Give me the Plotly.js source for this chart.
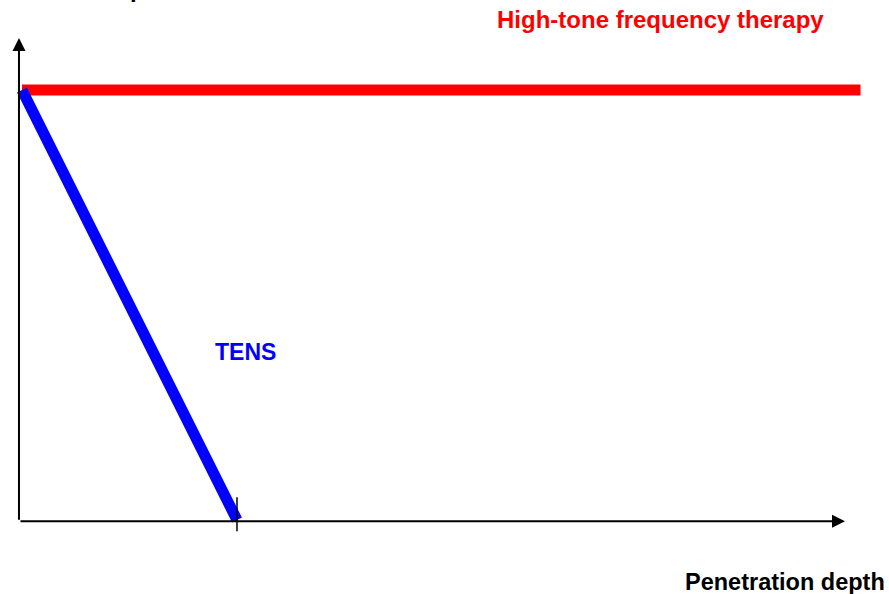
<!DOCTYPE html>
<html>
<head>
<meta charset="utf-8">
<script src="https://cdn.plot.ly/plotly-3.0.1.min.js"></script>
<style>html,body{margin:0;padding:0;background:#fff;}#chart{width:889px;height:594px;}</style>
</head>
<body>
<div id="chart"></div>
<script>
// Data (conceptual units: depth and relative effect)
const tensDepth = [0, 1];
const tensEffect = [1, 0];
const hftDepth = [0, 3.9];
const hftEffect = [1, 1];
const tensLabel = "TENS";
const hftLabel = "High-tone frequency therapy";
const xTitle = "Penetration depth";
const yTitle = "Number of action potentials";

const FONT = "Liberation Sans, Arial, sans-serif";

const traces = [
  {x: hftDepth, y: hftEffect, mode: "lines", line: {color: "#ff0000", width: 11}, hoverinfo: "skip"},
  {x: tensDepth, y: tensEffect, mode: "lines", line: {color: "#0000ff", width: 11}, hoverinfo: "skip"}
];

const axX0 = -0.014, axY0 = -0.003;
const layout = {
  width: 889, height: 594,
  margin: {l: 0, r: 0, t: 0, b: 0},
  paper_bgcolor: "#fff", plot_bgcolor: "#fff",
  showlegend: false,
  xaxis: {range: [-0.1023, 4.0326], showgrid: false, zeroline: false, showticklabels: false, ticks: "", fixedrange: true},
  yaxis: {range: [-0.1721, 1.2093], showgrid: false, zeroline: false, showticklabels: false, ticks: "", fixedrange: true},
  shapes: [
    {type: "line", xref: "x", yref: "y", x0: tensDepth[1], x1: tensDepth[1], y0: -0.026, y1: 0.053, line: {color: "#000", width: 1.5}}
  ],
  annotations: [
    {xref: "x", yref: "y", axref: "x", ayref: "y", x: axX0, y: 1.121, ax: axX0, ay: axY0, showarrow: true, arrowhead: 2, arrowsize: 1.3, arrowwidth: 2, arrowcolor: "#000", text: ""},
    {xref: "x", yref: "y", axref: "x", ayref: "y", x: 3.828, y: axY0, ax: axX0, ay: axY0, showarrow: true, arrowhead: 2, arrowsize: 1.3, arrowwidth: 2, arrowcolor: "#000", text: ""},
    {xref: "paper", yref: "paper", x: 660/889, y: 1 - 20/594, xanchor: "center", yanchor: "middle", showarrow: false, text: "<b>" + hftLabel + "</b>", font: {family: FONT, size: 24, color: "#ff0000"}},
    {xref: "paper", yref: "paper", x: 246/889, y: 1 - 352/594, xanchor: "center", yanchor: "middle", showarrow: false, text: "<b>" + tensLabel + "</b>", font: {family: FONT, size: 23, color: "#0000ff"}},
    {xref: "paper", yref: "paper", x: 887/889, y: 1 - 582/594, xanchor: "right", yanchor: "middle", showarrow: false, text: "<b>" + xTitle + "</b>", font: {family: FONT, size: 23.5, color: "#000"}},
    {xref: "paper", yref: "paper", x: 245/889, y: 1 + 11/594, xanchor: "right", yanchor: "middle", showarrow: false, text: "<b>" + yTitle + "</b>", font: {family: FONT, size: 24, color: "#000"}}
  ]
};

Plotly.newPlot("chart", traces, layout, {staticPlot: true, displayModeBar: false});
</script>
</body>
</html>
